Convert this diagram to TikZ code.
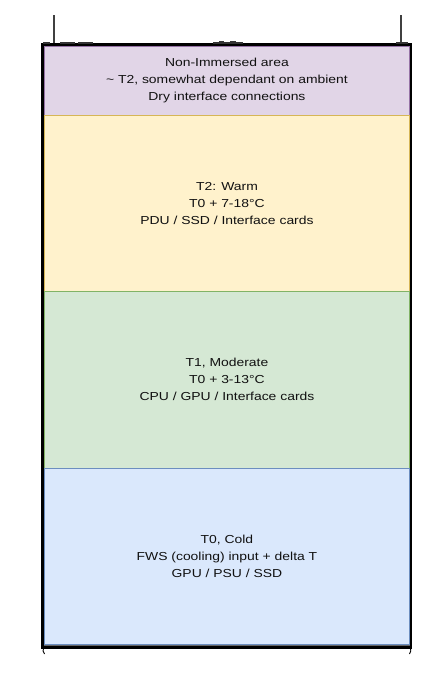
\documentclass[tikz,border=0pt]{standalone}
\usepackage{fontspec}
\setmainfont{Liberation Sans}[FakeStretch=1.2]
\definecolor{pfill}{HTML}{E1D5E7}\definecolor{pline}{HTML}{9673A6}
\definecolor{yfill}{HTML}{FFF2CC}\definecolor{yline}{HTML}{D6B656}
\definecolor{gfill}{HTML}{D5E8D4}\definecolor{gline}{HTML}{82B366}
\definecolor{bfill}{HTML}{DAE8FC}\definecolor{bline}{HTML}{6C8EBF}
\definecolor{txt}{HTML}{111111}
\begin{document}
\begin{tikzpicture}[x=1pt,y=-1pt,
  zone/.style={draw=#1line,fill=#1fill,line width=0.9pt,rectangle,inner sep=0pt,
    anchor=north west,minimum width=365pt,align=center,text=txt,
    font=\fontsize{11.6}{17}\selectfont},
  chassis/.style={draw=black,line width=2.6pt},
  post/.style={draw=black!75,line width=1.8pt},
  bump/.style={fill=black!80,draw=none}]
\useasboundingbox (0,0) rectangle (434,681);
% zones
\node[zone=p,minimum height=69.2pt] (nonimm) at (44,45.5)
  {Non-Immersed area\\\textasciitilde{} T2, somewhat dependant on ambient\\Dry interface connections};
\node[zone=y,minimum height=176.3pt] (warm) at (44,114.7)
  {T2: Warm\\T0 + 7-18°C\\PDU / SSD / Interface cards};
\node[zone=g,minimum height=176.7pt] (moderate) at (44,291)
  {T1, Moderate\\T0 + 3-13°C\\CPU / GPU / Interface cards};
\node[zone=b,minimum height=176.3pt] (cold) at (44,467.7)
  {T0, Cold\\FWS (cooling) input + delta T\\GPU / PSU / SSD};
% chassis frame
\draw[chassis] (42.5,44.2) rectangle (411,647.3);
\draw[black!60,line width=0.8pt] (44,645.2) -- (409.5,645.2);
% posts
\coordinate (pl1) at (53.6,15); \coordinate (pl2) at (53.6,43);
\coordinate (pr1) at (400.6,15); \coordinate (pr2) at (400.6,43);
\draw[post] (pl1) -- (pl2);
\draw[post] (pr1) -- (pr2);
% top bumps
\fill[bump] (60,41.6) rectangle (75,43.5);
\fill[bump] (78,41.6) rectangle (93,43.5);
\fill[bump] (43,41.8) rectangle (50,43.5);
\fill[bump] (396,41.8) rectangle (408,43.5);
\fill[bump] (213,42.3) rectangle (243,43.5);
\fill[bump] (219,41.2) rectangle (224,43);
\fill[bump] (230,41.2) rectangle (236,43);
% feet
\coordinate (fl1) at (43.5,648); \coordinate (fl2) at (44.5,654);
\coordinate (fr1) at (410.5,648); \coordinate (fr2) at (409.5,654);
\draw[black,line width=0.9pt] (fl1) .. controls (42.8,651) .. (fl2);
\draw[black,line width=0.9pt] (fr1) .. controls (411,651) .. (fr2);
\draw[black,line width=1.4pt] (43,648) -- (51,648);
\draw[black,line width=1.4pt] (403,648) -- (411,648);
\end{tikzpicture}
\end{document}
